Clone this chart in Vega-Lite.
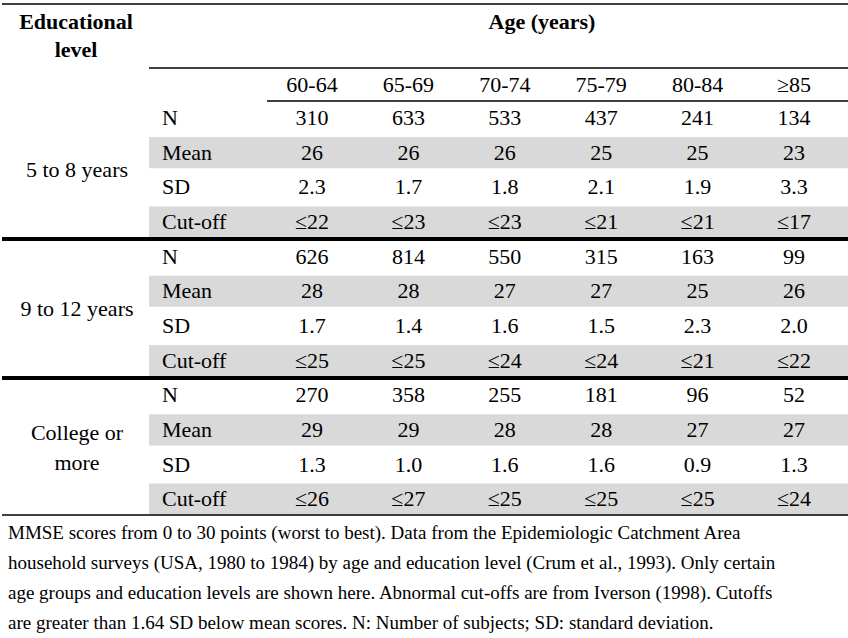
{
  "$schema": "https://vega.github.io/schema/vega-lite/v6.json",
  "width": 848,
  "height": 638,
  "autosize": {"type": "fit", "contains": "padding"},
  "padding": 0,
  "config": {"view": {"stroke": null}},
  "data": {"values": [
      {"edu": "5 to 8 years", "stat": "N", "age": "60-64", "value": "310"},
      {"edu": "5 to 8 years", "stat": "N", "age": "65-69", "value": "633"},
      {"edu": "5 to 8 years", "stat": "N", "age": "70-74", "value": "533"},
      {"edu": "5 to 8 years", "stat": "N", "age": "75-79", "value": "437"},
      {"edu": "5 to 8 years", "stat": "N", "age": "80-84", "value": "241"},
      {"edu": "5 to 8 years", "stat": "N", "age": "≥85", "value": "134"},
      {"edu": "5 to 8 years", "stat": "Mean", "age": "60-64", "value": "26"},
      {"edu": "5 to 8 years", "stat": "Mean", "age": "65-69", "value": "26"},
      {"edu": "5 to 8 years", "stat": "Mean", "age": "70-74", "value": "26"},
      {"edu": "5 to 8 years", "stat": "Mean", "age": "75-79", "value": "25"},
      {"edu": "5 to 8 years", "stat": "Mean", "age": "80-84", "value": "25"},
      {"edu": "5 to 8 years", "stat": "Mean", "age": "≥85", "value": "23"},
      {"edu": "5 to 8 years", "stat": "SD", "age": "60-64", "value": "2.3"},
      {"edu": "5 to 8 years", "stat": "SD", "age": "65-69", "value": "1.7"},
      {"edu": "5 to 8 years", "stat": "SD", "age": "70-74", "value": "1.8"},
      {"edu": "5 to 8 years", "stat": "SD", "age": "75-79", "value": "2.1"},
      {"edu": "5 to 8 years", "stat": "SD", "age": "80-84", "value": "1.9"},
      {"edu": "5 to 8 years", "stat": "SD", "age": "≥85", "value": "3.3"},
      {"edu": "5 to 8 years", "stat": "Cut-off", "age": "60-64", "value": "≤22"},
      {"edu": "5 to 8 years", "stat": "Cut-off", "age": "65-69", "value": "≤23"},
      {"edu": "5 to 8 years", "stat": "Cut-off", "age": "70-74", "value": "≤23"},
      {"edu": "5 to 8 years", "stat": "Cut-off", "age": "75-79", "value": "≤21"},
      {"edu": "5 to 8 years", "stat": "Cut-off", "age": "80-84", "value": "≤21"},
      {"edu": "5 to 8 years", "stat": "Cut-off", "age": "≥85", "value": "≤17"},
      {"edu": "9 to 12 years", "stat": "N", "age": "60-64", "value": "626"},
      {"edu": "9 to 12 years", "stat": "N", "age": "65-69", "value": "814"},
      {"edu": "9 to 12 years", "stat": "N", "age": "70-74", "value": "550"},
      {"edu": "9 to 12 years", "stat": "N", "age": "75-79", "value": "315"},
      {"edu": "9 to 12 years", "stat": "N", "age": "80-84", "value": "163"},
      {"edu": "9 to 12 years", "stat": "N", "age": "≥85", "value": "99"},
      {"edu": "9 to 12 years", "stat": "Mean", "age": "60-64", "value": "28"},
      {"edu": "9 to 12 years", "stat": "Mean", "age": "65-69", "value": "28"},
      {"edu": "9 to 12 years", "stat": "Mean", "age": "70-74", "value": "27"},
      {"edu": "9 to 12 years", "stat": "Mean", "age": "75-79", "value": "27"},
      {"edu": "9 to 12 years", "stat": "Mean", "age": "80-84", "value": "25"},
      {"edu": "9 to 12 years", "stat": "Mean", "age": "≥85", "value": "26"},
      {"edu": "9 to 12 years", "stat": "SD", "age": "60-64", "value": "1.7"},
      {"edu": "9 to 12 years", "stat": "SD", "age": "65-69", "value": "1.4"},
      {"edu": "9 to 12 years", "stat": "SD", "age": "70-74", "value": "1.6"},
      {"edu": "9 to 12 years", "stat": "SD", "age": "75-79", "value": "1.5"},
      {"edu": "9 to 12 years", "stat": "SD", "age": "80-84", "value": "2.3"},
      {"edu": "9 to 12 years", "stat": "SD", "age": "≥85", "value": "2.0"},
      {"edu": "9 to 12 years", "stat": "Cut-off", "age": "60-64", "value": "≤25"},
      {"edu": "9 to 12 years", "stat": "Cut-off", "age": "65-69", "value": "≤25"},
      {"edu": "9 to 12 years", "stat": "Cut-off", "age": "70-74", "value": "≤24"},
      {"edu": "9 to 12 years", "stat": "Cut-off", "age": "75-79", "value": "≤24"},
      {"edu": "9 to 12 years", "stat": "Cut-off", "age": "80-84", "value": "≤21"},
      {"edu": "9 to 12 years", "stat": "Cut-off", "age": "≥85", "value": "≤22"},
      {"edu": "College or more", "stat": "N", "age": "60-64", "value": "270"},
      {"edu": "College or more", "stat": "N", "age": "65-69", "value": "358"},
      {"edu": "College or more", "stat": "N", "age": "70-74", "value": "255"},
      {"edu": "College or more", "stat": "N", "age": "75-79", "value": "181"},
      {"edu": "College or more", "stat": "N", "age": "80-84", "value": "96"},
      {"edu": "College or more", "stat": "N", "age": "≥85", "value": "52"},
      {"edu": "College or more", "stat": "Mean", "age": "60-64", "value": "29"},
      {"edu": "College or more", "stat": "Mean", "age": "65-69", "value": "29"},
      {"edu": "College or more", "stat": "Mean", "age": "70-74", "value": "28"},
      {"edu": "College or more", "stat": "Mean", "age": "75-79", "value": "28"},
      {"edu": "College or more", "stat": "Mean", "age": "80-84", "value": "27"},
      {"edu": "College or more", "stat": "Mean", "age": "≥85", "value": "27"},
      {"edu": "College or more", "stat": "SD", "age": "60-64", "value": "1.3"},
      {"edu": "College or more", "stat": "SD", "age": "65-69", "value": "1.0"},
      {"edu": "College or more", "stat": "SD", "age": "70-74", "value": "1.6"},
      {"edu": "College or more", "stat": "SD", "age": "75-79", "value": "1.6"},
      {"edu": "College or more", "stat": "SD", "age": "80-84", "value": "0.9"},
      {"edu": "College or more", "stat": "SD", "age": "≥85", "value": "1.3"},
      {"edu": "College or more", "stat": "Cut-off", "age": "60-64", "value": "≤26"},
      {"edu": "College or more", "stat": "Cut-off", "age": "65-69", "value": "≤27"},
      {"edu": "College or more", "stat": "Cut-off", "age": "70-74", "value": "≤25"},
      {"edu": "College or more", "stat": "Cut-off", "age": "75-79", "value": "≤25"},
      {"edu": "College or more", "stat": "Cut-off", "age": "80-84", "value": "≤25"},
      {"edu": "College or more", "stat": "Cut-off", "age": "≥85", "value": "≤24"}
  ]},
  "layer": [
    {
      "transform": [{"filter": "(datum.stat === 'Mean' || datum.stat === 'Cut-off') && datum.age === '60-64'"}],
      "mark": {"type": "rect", "color": "#d9d9d9"},
      "encoding": {
        "x": {"value": 147},
        "x2": {"value": 846},
        "y": {"field": "edu", "type": "nominal", "axis": null, "scale": {"type": "band", "domain": ["5 to 8 years", "9 to 12 years", "College or more"], "range": [100.7, 516.5], "paddingInner": 0, "paddingOuter": 0}},
        "yOffset": {"field": "stat", "type": "nominal", "scale": {"type": "band", "domain": ["N", "Mean", "SD", "Cut-off"], "paddingInner": 0.1, "paddingOuter": 0.05}}
      }
    },
    {
      "data": {"values": [{}]},
      "mark": {"type": "rule", "color": "#000000", "strokeWidth": 1.5},
      "encoding": {"x": {"value": 0}, "x2": {"value": 848}, "y": {"value": 4}}
    },
    {
      "data": {"values": [{}]},
      "mark": {"type": "rule", "color": "#000000", "strokeWidth": 1.3},
      "encoding": {"x": {"value": 147}, "x2": {"value": 848}, "y": {"value": 68}}
    },
    {
      "data": {"values": [{}]},
      "mark": {"type": "rule", "color": "#000000", "strokeWidth": 1.3},
      "encoding": {"x": {"value": 265}, "x2": {"value": 848}, "y": {"value": 101}}
    },
    {
      "data": {"values": [{}]},
      "mark": {"type": "rule", "color": "#000000", "strokeWidth": 4},
      "encoding": {"x": {"value": 0}, "x2": {"value": 848}, "y": {"value": 239}}
    },
    {
      "data": {"values": [{}]},
      "mark": {"type": "rule", "color": "#000000", "strokeWidth": 4},
      "encoding": {"x": {"value": 0}, "x2": {"value": 848}, "y": {"value": 378}}
    },
    {
      "data": {"values": [{}]},
      "mark": {"type": "rule", "color": "#000000", "strokeWidth": 1.5},
      "encoding": {"x": {"value": 0}, "x2": {"value": 848}, "y": {"value": 515}}
    },
    {
      "mark": {"type": "text", "font": "Liberation Serif", "fontSize": 22, "align": "center", "baseline": "middle"},
      "encoding": {
        "x": {"field": "age", "type": "nominal", "axis": null, "scale": {"type": "point", "domain": ["60-64", "65-69", "70-74", "75-79", "80-84", "≥85"], "range": [310, 792], "padding": 0}},
        "y": {"field": "edu", "type": "nominal", "axis": null, "scale": {"type": "band", "domain": ["5 to 8 years", "9 to 12 years", "College or more"], "range": [100.7, 516.5], "paddingInner": 0, "paddingOuter": 0}},
        "yOffset": {"field": "stat", "type": "nominal", "scale": {"type": "band", "domain": ["N", "Mean", "SD", "Cut-off"], "paddingInner": 0.1, "paddingOuter": 0.05}},
        "text": {"field": "value", "type": "nominal"}
      }
    },
    {
      "transform": [{"filter": "datum.age === '60-64'"}],
      "mark": {"type": "text", "font": "Liberation Serif", "fontSize": 22, "align": "left", "baseline": "middle"},
      "encoding": {
        "x": {"value": 160},
        "y": {"field": "edu", "type": "nominal", "axis": null, "scale": {"type": "band", "domain": ["5 to 8 years", "9 to 12 years", "College or more"], "range": [100.7, 516.5], "paddingInner": 0, "paddingOuter": 0}},
        "yOffset": {"field": "stat", "type": "nominal", "scale": {"type": "band", "domain": ["N", "Mean", "SD", "Cut-off"], "paddingInner": 0.1, "paddingOuter": 0.05}},
        "text": {"field": "stat", "type": "nominal"}
      }
    },
    {
      "transform": [{"filter": "datum.edu === '5 to 8 years' && datum.stat === 'N'"}],
      "mark": {"type": "text", "font": "Liberation Serif", "fontSize": 22, "align": "center", "baseline": "middle"},
      "encoding": {
        "x": {"field": "age", "type": "nominal", "axis": null, "scale": {"type": "point", "domain": ["60-64", "65-69", "70-74", "75-79", "80-84", "≥85"], "range": [310, 792], "padding": 0}},
        "y": {"value": 85},
        "text": {"field": "age", "type": "nominal"}
      }
    },
    {
      "transform": [{"filter": "datum.edu !== 'College or more' && datum.stat === 'N' && datum.age === '60-64'"}],
      "mark": {"type": "text", "font": "Liberation Serif", "fontSize": 22, "align": "center", "baseline": "middle"},
      "encoding": {
        "x": {"value": 75},
        "y": {"field": "edu", "type": "nominal", "axis": null, "scale": {"type": "band", "domain": ["5 to 8 years", "9 to 12 years", "College or more"], "range": [100.7, 516.5], "paddingInner": 0, "paddingOuter": 0}},
        "text": {"field": "edu", "type": "nominal"}
      }
    },
    {
      "data": {"values": [{}]},
      "mark": {"type": "text", "font": "Liberation Serif", "fontSize": 22, "align": "center", "baseline": "middle", "lineHeight": 30},
      "encoding": {"x": {"value": 75}, "y": {"value": 433}, "text": {"value": ["College or", "more"]}}
    },
    {
      "data": {"values": [{}]},
      "mark": {"type": "text", "font": "Liberation Serif", "fontSize": 22, "fontWeight": "bold", "align": "center", "baseline": "middle", "lineHeight": 28},
      "encoding": {"x": {"value": 74}, "y": {"value": 22}, "text": {"value": ["Educational", "level"]}}
    },
    {
      "data": {"values": [{}]},
      "mark": {"type": "text", "font": "Liberation Serif", "fontSize": 22, "fontWeight": "bold", "align": "center", "baseline": "middle"},
      "encoding": {"x": {"value": 540}, "y": {"value": 22}, "text": {"value": "Age (years)"}}
    },
    {
      "data": {"values": [{}]},
      "mark": {"type": "text", "font": "Liberation Serif", "fontSize": 19, "align": "left", "baseline": "middle", "lineHeight": 30},
      "encoding": {
        "x": {"value": 6},
        "y": {"value": 533},
        "text": {"value": [
          "MMSE scores from 0 to 30 points (worst to best). Data from the Epidemiologic Catchment Area",
          "household surveys (USA, 1980 to 1984) by age and education level (Crum et al., 1993). Only certain",
          "age groups and education levels are shown here. Abnormal cut-offs are from Iverson (1998). Cutoffs",
          "are greater than 1.64 SD below mean scores. N: Number of subjects; SD: standard deviation."
        ]}
      }
    }
  ]
}
